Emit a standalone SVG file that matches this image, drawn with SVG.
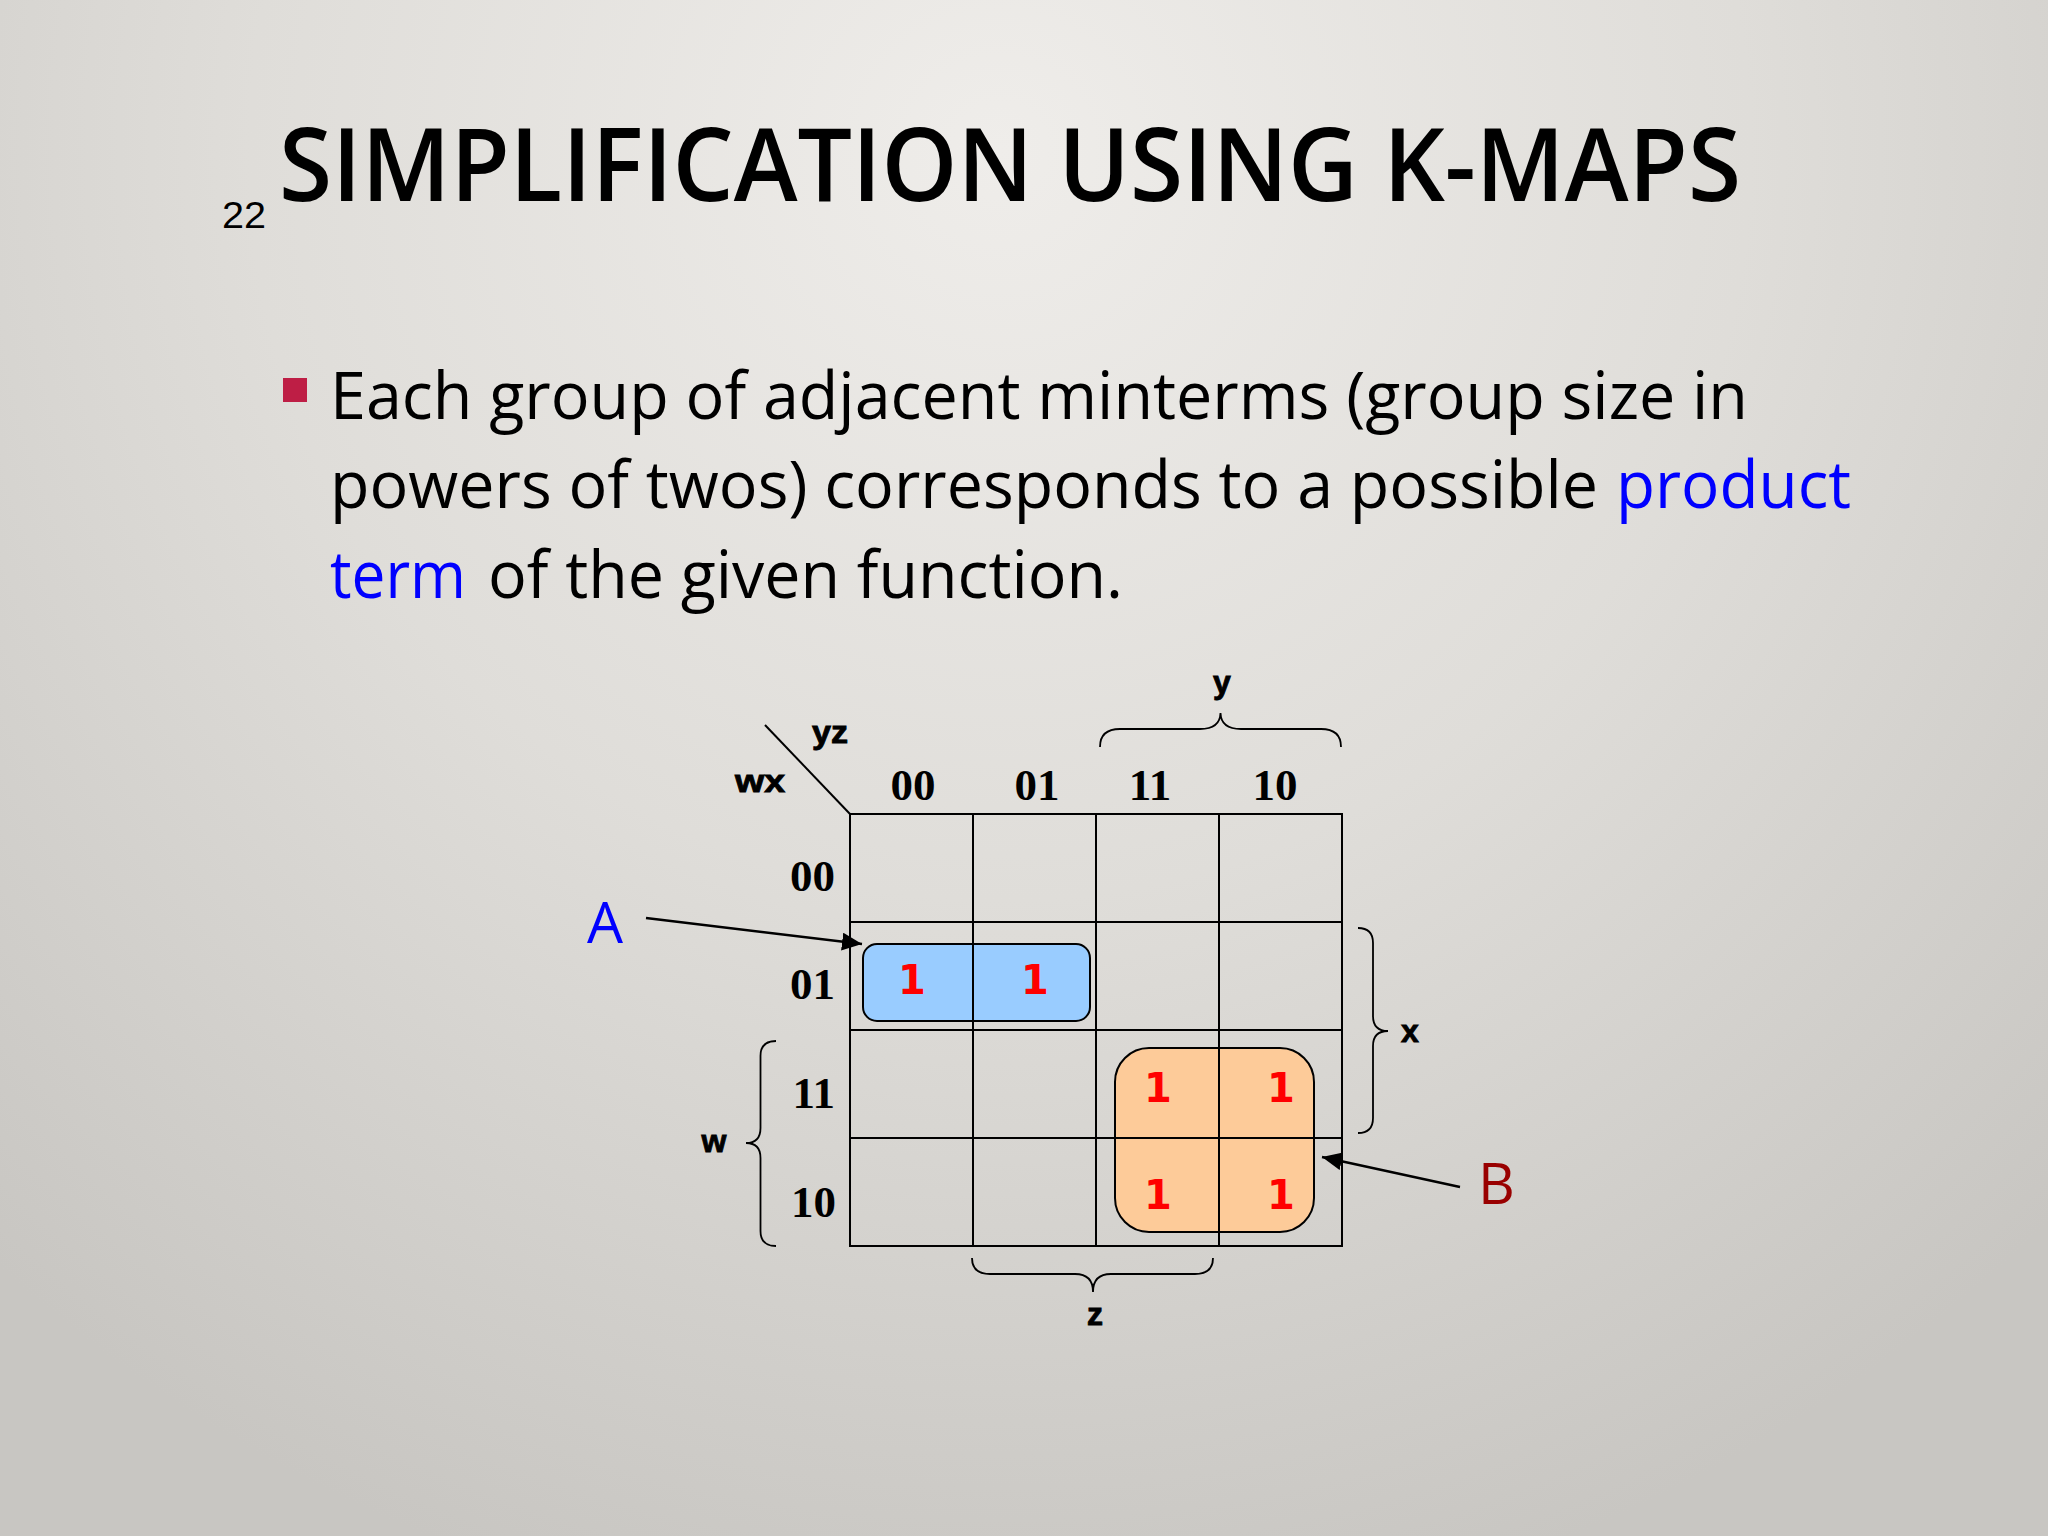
<svg xmlns="http://www.w3.org/2000/svg" width="2048" height="1536" viewBox="0 0 2048 1536">
<defs>
<radialGradient id="bg" cx="1000" cy="150" r="1500" gradientUnits="userSpaceOnUse">
<stop offset="0" stop-color="#EFEDEA"/>
<stop offset="0.5" stop-color="#DFDDD9"/>
<stop offset="1" stop-color="#C8C6C2"/>
</radialGradient>
<marker id="ah" markerUnits="userSpaceOnUse" markerWidth="22" markerHeight="18" refX="20" refY="9" orient="auto">
<path d="M0,0 L20,9 L0,18 Z" fill="#000"/>
</marker>
<style>
.body{font-family:"Open Sans","Liberation Sans",sans-serif;font-size:66px;fill:#000}
.blue{fill:#0000FF}
.lbl{font-family:"Liberation Serif",serif;font-weight:bold;font-size:45px;fill:#000}
.var{font-family:"Liberation Sans",Arial,sans-serif;font-weight:bold;font-size:32px;fill:#000;stroke:#000;stroke-width:0.9}
.one{font-family:"DejaVu Sans",Verdana,sans-serif;font-weight:bold;font-size:40px;fill:#FF0000;text-anchor:middle}
.grid{stroke:#000;stroke-width:2;fill:none}
.brace{stroke:#000;stroke-width:1.8;fill:none}
.arrow{stroke:#000;stroke-width:2.4;fill:none;marker-end:url(#ah)}
</style>
</defs>
<rect width="2048" height="1536" fill="url(#bg)"/>

<g id="title">
<text x="222" y="228" font-family="Liberation Sans,Arial,sans-serif" font-size="36" textLength="44" lengthAdjust="spacingAndGlyphs" fill="#000">22</text>
<text x="279" y="201" font-family="Open Sans,Liberation Sans,sans-serif" font-size="102" font-weight="600" textLength="1462" lengthAdjust="spacingAndGlyphs" fill="#000">SIMPLIFICATION USING K-MAPS</text>
</g>

<g id="bullet-text">
<rect x="283" y="378" width="24" height="24" fill="#BE1E45"/>
<text class="body" x="330" y="419" textLength="1418" lengthAdjust="spacingAndGlyphs">Each group of adjacent minterms (group size in</text>
<text class="body" x="330" y="508" textLength="1268" lengthAdjust="spacingAndGlyphs">powers of twos) corresponds to a possible</text>
<text class="body blue" x="1616" y="508" textLength="235" lengthAdjust="spacingAndGlyphs">product</text>
<text class="body blue" x="330" y="598" textLength="136" lengthAdjust="spacingAndGlyphs">term</text>
<text class="body" x="488" y="598" textLength="635" lengthAdjust="spacingAndGlyphs">of the given function.</text>
</g>

<g id="groups">
<rect id="group-A" x="863" y="944" width="227" height="77" rx="14" ry="14" fill="#99CCFF" stroke="#000" stroke-width="2"/>
<rect id="group-B" x="1115" y="1048" width="199" height="184" rx="34" ry="34" fill="#FDCB99" stroke="#000" stroke-width="2"/>
</g>

<g id="kmap-grid">
<rect class="grid" x="850" y="814" width="492" height="432"/>
<path class="grid" d="M973,814 V1246 M1096,814 V1246 M1219,814 V1246 M850,922 H1342 M850,1030 H1342 M850,1138 H1342"/>
<line x1="765" y1="725" x2="850" y2="814" stroke="#000" stroke-width="2"/>
</g>

<g id="labels">
<text class="var" x="735" y="792" textLength="50" lengthAdjust="spacingAndGlyphs">wx</text>
<text class="var" x="812" y="743" textLength="36" lengthAdjust="spacingAndGlyphs">yz</text>
<text class="lbl" x="913" y="800" text-anchor="middle">00</text>
<text class="lbl" x="1037" y="800" text-anchor="middle">01</text>
<text class="lbl" x="1150" y="800" text-anchor="middle">11</text>
<text class="lbl" x="1275" y="800" text-anchor="middle">10</text>
<text class="lbl" x="835" y="891" text-anchor="end">00</text>
<text class="lbl" x="835" y="999" text-anchor="end">01</text>
<text class="lbl" x="835" y="1108" text-anchor="end">11</text>
<text class="lbl" x="836" y="1217" text-anchor="end">10</text>
<text class="var" x="1222" y="693" text-anchor="middle">y</text>
<text class="var" x="1410" y="1042" text-anchor="middle">x</text>
<text class="var" x="714" y="1152" text-anchor="middle">w</text>
<text class="var" x="1095" y="1325" text-anchor="middle">z</text>
</g>

<g id="ones">
<text class="one" x="912" y="994">1</text>
<text class="one" x="1035" y="994">1</text>
<text class="one" x="1158" y="1102">1</text>
<text class="one" x="1281" y="1102">1</text>
<text class="one" x="1158" y="1209">1</text>
<text class="one" x="1281" y="1209">1</text>
</g>

<g id="braces">
<path class="brace" d="M1100,747 Q1100,729 1120,729 L1200,729 Q1220,729 1220.5,713 Q1221,729 1241,729 L1321,729 Q1341,729 1341,747"/>
<path class="brace" d="M1358,928 Q1373,928 1373,943 L1373,1016 Q1373,1031 1388,1031 Q1373,1031 1373,1046 L1373,1118 Q1373,1133 1358,1133"/>
<path class="brace" d="M776,1041 Q760.5,1041 760.5,1056 L760.5,1128 Q760.5,1143 746,1143 Q760.5,1143 760.5,1158 L760.5,1231 Q760.5,1246 776,1246"/>
<path class="brace" d="M972,1258 Q972,1274 990,1274 L1075,1274 Q1093,1274 1093,1292 Q1093,1274 1111,1274 L1195,1274 Q1213,1274 1213,1258"/>
</g>

<g id="node-A">
<text x="587" y="943" font-family="Open Sans,Liberation Sans,sans-serif" font-size="57" fill="#0000FF">A</text>
</g>
<g id="node-B">
<text x="1478" y="1204" font-family="Open Sans,Liberation Sans,sans-serif" font-size="57" fill="#990000">B</text>
</g>

<g id="connectors">
<line class="arrow" x1="646" y1="918" x2="862" y2="944"/>
<line class="arrow" x1="1460" y1="1187" x2="1322" y2="1157"/>
</g>
</svg>
